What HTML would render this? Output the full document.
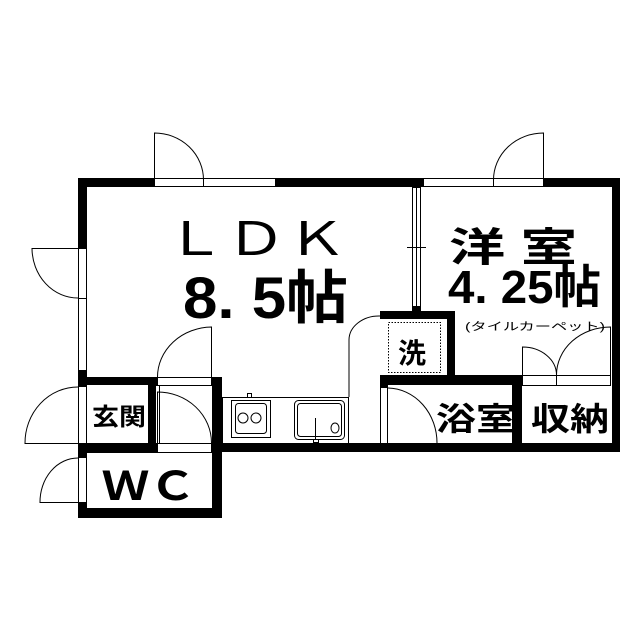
<!DOCTYPE html>
<html><head><meta charset="utf-8"><style>
html,body{margin:0;padding:0;background:#fff;}
svg{display:block;}
text{font-family:"Liberation Sans","Noto Sans CJK JP",sans-serif;fill:#000;}
</style></head><body>
<svg width="640" height="640" viewBox="0 0 640 640" xmlns="http://www.w3.org/2000/svg">
<rect width="640" height="640" fill="#fff"/>
<g fill="#000">
<rect x="78" y="178" width="76" height="9"/>
<rect x="275" y="178" width="148" height="9"/>
<rect x="543" y="178" width="77" height="9"/>
<rect x="612" y="178" width="8" height="274"/>
<rect x="78" y="178" width="9" height="70"/>
<rect x="78" y="370" width="9" height="17"/>
<rect x="78" y="443" width="9" height="15"/>
<rect x="78" y="502" width="9" height="16"/>
<rect x="78" y="377" width="79" height="8"/>
<rect x="212" y="377" width="10" height="141"/>
<rect x="148" y="385" width="7" height="58"/>
<rect x="78" y="443" width="79" height="10"/>
<rect x="212" y="443" width="408" height="9"/>
<rect x="78" y="508" width="144" height="10"/>
<rect x="380" y="311" width="75" height="8"/>
<rect x="447" y="311" width="8" height="70"/>
<rect x="380" y="375" width="142" height="10"/>
<rect x="380" y="375" width="8" height="13"/>
<rect x="512" y="375" width="10" height="77"/>
<rect x="412" y="306" width="9" height="6"/>
</g>
<g fill="none" stroke="#000" stroke-width="1">
<rect x="154.5" y="178.5" width="49" height="8"/>
<rect x="203.5" y="178.5" width="72" height="8"/>
<path d="M154.5 178 V133 A49 47 0 0 1 203.5 180"/>
<rect x="423.5" y="178.5" width="70" height="8"/>
<rect x="493.5" y="178.5" width="50" height="8"/>
<path d="M543.5 178 V133 A50 47 0 0 0 493.5 180"/>
<rect x="78.5" y="248.5" width="8" height="50"/>
<rect x="78.5" y="298.5" width="8" height="72"/>
<path d="M78 248.5 H32 A46 50 0 0 0 78 298"/>
<rect x="78.5" y="385.5" width="8" height="58"/>
<path d="M78 443.5 H25 A53 56 0 0 1 78 387"/>
<rect x="78.5" y="453.5" width="8" height="49"/>
<path d="M78 502.5 H40 A38 44 0 0 1 78 458"/>
<rect x="157.5" y="377.5" width="54" height="8"/>
<path d="M211.5 377 V327 A55 50 0 0 0 157.5 377"/>
<rect x="157.5" y="443.5" width="54" height="9"/>
<rect x="155.5" y="385.5" width="4" height="58"/>
<path d="M157.5 443 V392 A54 51 0 0 1 211.5 443"/>
<rect x="412.5" y="187.5" width="8" height="119"/>
<line x1="416.5" y1="187" x2="416.5" y2="306"/>
<line x1="407" y1="247.5" x2="426" y2="247.5"/>
<rect x="222.5" y="397.5" width="126" height="46"/>
<rect x="231.5" y="400.5" width="39" height="37"/>
<rect x="235.5" y="403.5" width="31" height="30" rx="3"/>
<circle cx="243" cy="418" r="5"/>
<circle cx="256" cy="418" r="5"/>
<rect x="247.5" y="393.5" width="4" height="4"/>
<rect x="294.5" y="400.5" width="50" height="39" rx="4"/>
<rect x="297.5" y="403.5" width="44" height="33" rx="3"/>
<line x1="315.5" y1="418" x2="315.5" y2="439"/>
<rect x="313.5" y="439.5" width="5" height="3"/>
<ellipse cx="335" cy="428" rx="4" ry="5"/>
<path d="M349 397 V340 A30 24 0 0 1 380 316"/>
<rect x="388.5" y="322.5" width="52" height="50" stroke-dasharray="1.5,1.5"/>
<rect x="380.5" y="385.5" width="7" height="58"/>
<path d="M388 388 A50 55 0 0 1 437 443"/>
<rect x="522.5" y="375.5" width="34" height="10"/>
<rect x="556.5" y="375.5" width="54" height="10"/>
<path d="M522.5 375 V347 A34 28 0 0 1 556.5 375"/>
<path d="M610.5 375 V327 A54 48 0 0 0 556.5 375"/>
</g>
<text x="165" y="255" font-size="46" textLength="182" lengthAdjust="spacingAndGlyphs">ＬＤＫ</text>
<text x="183" y="318" font-size="58" font-weight="bold" textLength="165" lengthAdjust="spacingAndGlyphs">8. 5帖</text>
<text x="449" y="261" font-size="40" font-weight="bold" textLength="128" lengthAdjust="spacingAndGlyphs">洋 室</text>
<text x="448" y="303" font-size="46" font-weight="bold" textLength="153" lengthAdjust="spacingAndGlyphs">4. 25帖</text>
<text x="465" y="330" font-size="11" textLength="140" lengthAdjust="spacingAndGlyphs">(タイルカーペット)</text>
<text x="398" y="363" font-size="28" font-weight="bold">洗</text>
<text x="436" y="430" font-size="32" font-weight="bold" textLength="80" lengthAdjust="spacingAndGlyphs">浴室</text>
<text x="531" y="430" font-size="32" font-weight="bold" textLength="78" lengthAdjust="spacingAndGlyphs">収納</text>
<text x="92" y="425" font-size="24" font-weight="bold" textLength="54" lengthAdjust="spacingAndGlyphs">玄関</text>
<text x="102" y="500" font-size="40" font-weight="bold" textLength="94" lengthAdjust="spacingAndGlyphs">ＷＣ</text>
</svg>
</body></html>
